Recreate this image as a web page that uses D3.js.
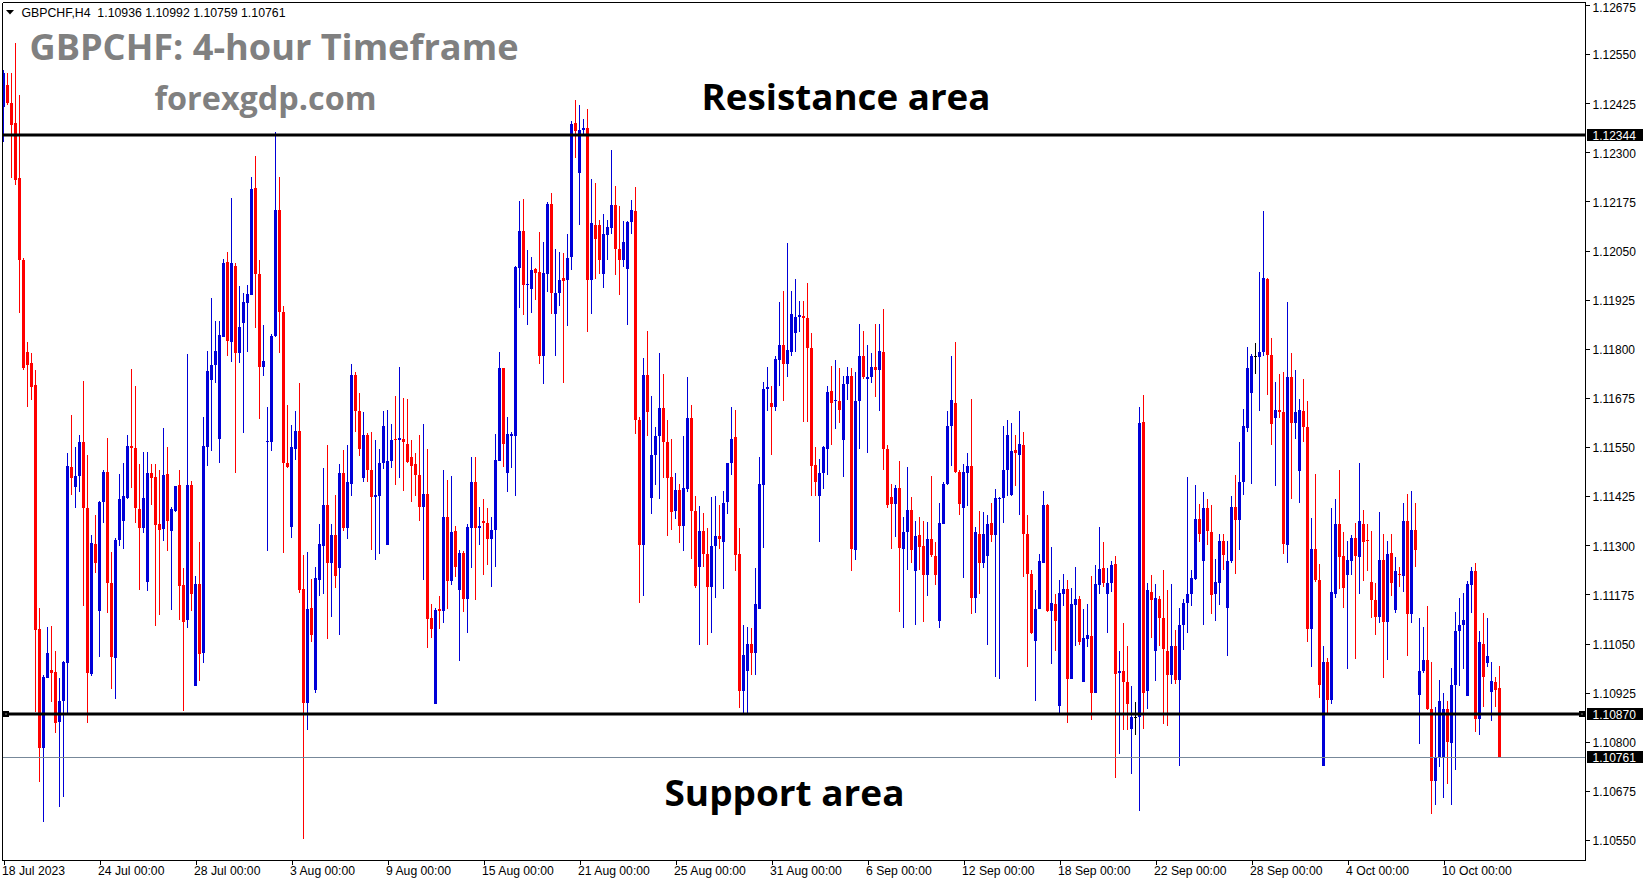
<!DOCTYPE html>
<html><head><meta charset="utf-8">
<script src="https://cdn.jsdelivr.net/npm/d3@7"></script>
<style>html,body{margin:0;padding:0;background:#fff;overflow:hidden}</style>
</head><body><svg id="c" width="1649" height="884"></svg>
<script>
// ---- data (GBPCHF H4) ----
const opens=[1.12416,1.12472,1.12426,1.12375,1.12235,1.12026,1.11792,1.11764,1.11708,1.11087,1.10784,1.10962,1.10983,1.10978,1.10850,1.10904,1.11001,1.11500,1.11449,1.11477,1.11563,1.11395,1.10973,1.11304,1.11133,1.11410,1.11487,1.11204,1.11013,1.11314,1.11362,1.11421,1.11553,1.11548,1.11393,1.11344,1.11207,1.11484,1.11474,1.11354,1.11342,1.11482,1.11337,1.11388,1.11454,1.11199,1.11110,1.11454,1.10942,1.11202,1.11026,1.11550,1.11721,1.11759,1.11571,1.11830,1.12021,1.11818,1.12011,1.11790,1.11866,1.11917,1.11937,1.12210,1.11991,1.11754,1.11563,1.11563,1.11833,1.12154,1.11894,1.11510,1.11347,1.11545,1.11591,
1.11188,1.10898,1.11141,1.10932,1.11211,1.11299,1.11402,1.11254,1.11327,1.11241,1.11484,1.11345,1.11457,1.11734,1.11641,1.11472,1.11581,1.11491,1.11423,1.11426,1.11509,1.11302,1.11515,1.11571,1.11568,1.11571,1.11559,1.11525,1.11507,1.11478,1.11398,1.11431,1.11114,1.10895,1.11137,1.11133,1.11373,1.11209,1.11336,1.11185,1.11281,1.11164,1.11345,1.11460,1.11345,1.11361,1.11357,1.11315,1.11340,1.11515,1.11750,1.11484,1.11579,1.11579,1.12005,1.12101,1.11962,1.11953,1.12003,1.11996,1.11783,1.11990,1.12169,1.11889,1.11941,1.11980,1.11975,1.12033,1.12375,1.12247,1.12358,1.12363,1.11974,1.12114,
1.12114,1.11990,1.12089,1.12107,1.12167,1.12054,1.12025,1.12003,1.12124,1.12151,1.11620,1.11302,1.11734,1.11420,1.11531,1.11577,1.11649,1.11562,1.11475,1.11388,1.11441,1.11349,1.11444,1.11625,1.11388,1.11244,1.11336,1.11277,1.11195,1.11297,1.11324,1.11309,1.11410,1.11509,1.11575,1.11278,1.10929,1.10981,1.11049,1.11026,1.11139,1.11454,1.11697,1.11661,1.11651,1.11772,1.11809,1.11762,1.11793,1.11839,1.11882,1.11883,1.11879,1.11803,1.11505,1.11425,1.11484,1.11546,1.11692,1.11667,1.11667,1.11567,1.11710,1.11731,1.11287,1.11666,1.11781,1.11723,1.11729,1.11753,1.11746,1.11793,1.11546,1.11423,1.11404,
1.11447,1.11290,1.11334,1.11389,1.11234,1.11327,1.11297,1.11225,1.11315,1.11272,1.11108,1.11355,1.11456,1.11604,1.11663,1.11487,1.11396,1.11484,1.11503,1.11167,1.11330,1.11256,1.11272,1.11357,1.11327,1.11417,1.11420,1.11491,1.11429,1.11542,1.11531,1.11555,1.11330,1.11228,1.11056,1.11137,1.11254,1.11402,1.11133,1.11151,1.10890,1.11176,1.11188,1.10960,1.11149,1.11164,1.10952,1.11061,1.11069,1.10923,1.11198,1.11241,1.11176,1.11203,1.11253,1.10975,1.10981,1.10952,1.10833,1.10862,1.10862,1.11614,1.10929,1.11182,1.11031,1.11164,1.11114,1.11032,1.10969,1.11043,1.10957,1.11096,1.11154,1.11176,1.11213,
1.11367,1.11259,1.11396,1.11334,1.11176,1.11204,1.11312,1.11141,1.11259,1.11398,1.11364,1.11462,1.11598,1.11688,1.11781,1.11778,1.11793,1.11978,1.11784,1.11623,1.11645,1.11639,1.11302,1.11729,1.11612,1.11488,1.11642,1.11602,1.11087,1.11290,1.11211,1.10738,1.11003,1.10907,1.11176,1.11353,1.11272,1.11225,1.11260,1.11318,1.11269,1.11355,1.11314,1.11207,1.11161,1.11117,1.11262,1.11105,1.11281,1.11135,1.11228,1.11222,1.11361,1.11124,1.11339,1.10920,1.10979,1.11007,1.10884,1.10701,1.10760,1.10759,1.10883,1.10796,1.10944,1.11081,1.11096,1.10917,1.11198,1.11234,1.10858,1.11049,1.11000,1.10927,1.10952,1.10936];
const highs=[1.12510,1.12502,1.12502,1.12579,1.12446,1.12031,1.11818,1.11790,1.11746,1.11141,1.10970,1.11092,1.11095,1.11031,1.10962,1.11006,1.11535,1.11632,1.11550,1.11581,1.11718,1.11530,1.11326,1.11377,1.11413,1.11492,1.11573,1.11283,1.11319,1.11482,1.11510,1.11581,1.11749,1.11706,1.11507,1.11538,1.11538,1.11507,1.11507,1.11492,1.11599,1.11550,1.11398,1.11451,1.11492,1.11242,1.11787,1.11464,1.11222,1.11309,1.11627,1.11795,1.11930,1.11871,1.11871,1.12029,1.12047,1.12184,1.12019,1.11960,1.11942,1.11963,1.12238,1.12291,1.12026,1.11861,1.11652,1.11838,1.12352,1.12238,1.11909,1.11657,1.11606,1.11642,1.11713,
1.11275,1.11283,1.11213,1.11246,1.11353,1.11497,1.11555,1.11355,1.11429,1.11507,1.11542,1.11555,1.11762,1.11740,1.11688,1.11639,1.11586,1.11589,1.11568,1.11546,1.11642,1.11645,1.11608,1.11679,1.11755,1.11676,1.11672,1.11568,1.11534,1.11581,1.11608,1.11546,1.11151,1.11141,1.11170,1.11491,1.11466,1.11476,1.11349,1.11287,1.11285,1.11355,1.11525,1.11525,1.11398,1.11417,1.11396,1.11373,1.11583,1.11793,1.11750,1.11626,1.11588,1.12012,1.12175,1.12181,1.12052,1.12033,1.12005,1.12098,1.12073,1.12173,1.12196,1.12054,1.12046,1.12043,1.12093,1.12379,1.12434,1.12420,1.12385,1.12410,1.12231,1.12222,
1.12128,1.12144,1.12128,1.12305,1.12215,1.12163,1.12126,1.12126,1.12178,1.12212,1.11626,1.11777,1.11845,1.11679,1.11602,1.11789,1.11737,1.11618,1.11571,1.11484,1.11457,1.11577,1.11729,1.11657,1.11425,1.11401,1.11383,1.11343,1.11423,1.11425,1.11402,1.11438,1.11509,1.11651,1.11645,1.11343,1.11096,1.11092,1.11090,1.11241,1.11525,1.11715,1.11753,1.11706,1.11781,1.11920,1.11947,1.12070,1.11947,1.11978,1.11922,1.11922,1.11968,1.11839,1.11549,1.11519,1.11552,1.11706,1.11756,1.11772,1.11750,1.11731,1.11753,1.11750,1.11740,1.11864,1.11846,1.11811,1.11789,1.11864,1.11864,1.11901,1.11555,1.11457,1.11454,
1.11515,1.11373,1.11499,1.11423,1.11361,1.11371,1.11361,1.11359,1.11476,1.11309,1.11408,1.11462,1.11642,1.11781,1.11818,1.11491,1.11507,1.11536,1.11672,1.11346,1.11388,1.11386,1.11376,1.11407,1.11444,1.11423,1.11604,1.11618,1.11610,1.11581,1.11641,1.11589,1.11376,1.11238,1.11186,1.11278,1.11438,1.11404,1.11296,1.11176,1.11211,1.11228,1.11211,1.11191,1.11244,1.11170,1.11137,1.11151,1.11222,1.11250,1.11346,1.11309,1.11241,1.11260,1.11272,1.11031,1.11102,1.11044,1.10942,1.10901,1.11651,1.11682,1.11203,1.11225,1.11201,1.11170,1.11238,1.11185,1.11201,1.11084,1.11141,1.11164,1.11475,1.11238,1.11454,
1.11404,1.11435,1.11417,1.11402,1.11265,1.11330,1.11330,1.11312,1.11425,1.11478,1.11562,1.11647,1.11805,1.11787,1.11814,1.11996,1.12151,1.11980,1.11827,1.11716,1.11737,1.11741,1.11919,1.11789,1.11746,1.11672,1.11723,1.11666,1.11370,1.11481,1.11253,1.11043,1.11013,1.11394,1.11419,1.11491,1.11333,1.11312,1.11327,1.11357,1.11509,1.11389,1.11355,1.11336,1.11204,1.11386,1.11330,1.11312,1.11330,1.11271,1.11244,1.11408,1.11431,1.11439,1.11407,1.11114,1.11092,1.11145,1.11003,1.10889,1.10958,1.10923,1.10905,1.10987,1.11129,1.11167,1.11178,1.11209,1.11244,1.11256,1.11081,1.11127,1.11114,1.11003,1.10966,1.10992];
const lows=[1.12327,1.12421,1.12235,1.12217,1.11891,1.11746,1.11652,1.11670,1.10876,1.10698,1.10596,1.10962,1.10901,1.10823,1.10634,1.10660,1.10873,1.11428,1.11395,1.11436,1.11146,1.10848,1.10968,1.11230,1.11016,1.11357,1.11128,1.10935,1.10909,1.11298,1.11291,1.11418,1.11446,1.11357,1.11186,1.11331,1.11184,1.11403,1.11095,1.11123,1.11311,1.11286,1.11136,1.11385,1.11110,1.10879,1.11090,1.11133,1.10942,1.10955,1.11001,1.11502,1.11540,1.11713,1.11510,1.11830,1.11782,1.11767,1.11484,1.11764,1.11586,1.11792,1.11937,1.11853,1.11622,1.11731,1.11286,1.11540,1.11830,1.11790,1.11281,1.11497,1.11319,1.11517,1.11179,
1.10553,1.10831,1.11053,1.10923,1.11170,1.11176,1.11061,1.11117,1.11191,1.11071,1.11336,1.11315,1.11426,1.11589,1.11528,1.11462,1.11460,1.11287,1.11262,1.11277,1.11493,1.11302,1.11497,1.11454,1.11470,1.11438,1.11509,1.11410,1.11425,1.11361,1.11211,1.11038,1.11065,1.10895,1.11087,1.11102,1.11137,1.11198,1.11219,1.11006,1.11130,1.11077,1.11241,1.11161,1.11302,1.11225,1.11250,1.11195,1.11246,1.11515,1.11500,1.11435,1.11497,1.11426,1.11904,1.11885,1.11861,1.11892,1.11925,1.11762,1.11710,1.11945,1.11888,1.11781,1.11910,1.11713,1.11857,1.12000,1.12286,1.12116,1.12342,1.11842,1.11888,1.11978,
1.11990,1.11956,1.12025,1.12093,1.11988,1.11938,1.12009,1.11861,1.12093,1.11583,1.11154,1.11170,1.11577,1.11380,1.11454,1.11417,1.11472,1.11324,1.11340,1.11367,1.11306,1.11285,1.11435,1.11266,1.11192,1.11047,1.11244,1.11047,1.11077,1.11166,1.11290,1.11188,1.11380,1.11478,1.11234,1.10886,1.10874,1.10874,1.10969,1.10969,1.11139,1.11293,1.11641,1.11531,1.11642,1.11706,1.11667,1.11728,1.11781,1.11793,1.11842,1.11614,1.11614,1.11425,1.11425,1.11309,1.11444,1.11478,1.11555,1.11596,1.11612,1.11475,1.11670,1.11235,1.11262,1.11546,1.11723,1.11534,1.11713,1.11678,1.11641,1.11491,1.11394,1.11290,1.11322,
1.11129,1.11090,1.11238,1.11256,1.11098,1.11238,1.11105,1.11170,1.11269,1.11198,1.11090,1.11353,1.11454,1.11503,1.11484,1.11377,1.11216,1.11401,1.11124,1.11127,1.11176,1.11241,1.11047,1.11309,1.10964,1.10960,1.11357,1.11425,1.11425,1.11450,1.11377,1.11219,1.10989,1.11075,1.10905,1.11137,1.11254,1.11130,1.10997,1.11032,1.10874,1.11145,1.10849,1.10960,1.11043,1.11047,1.10952,1.11040,1.10855,1.10923,1.11176,1.11195,1.11077,1.11180,1.10707,1.10769,1.10831,1.10831,1.10717,1.10818,1.10625,1.10833,1.10883,1.11065,1.10954,1.11043,1.10846,1.10841,1.10948,1.10948,1.10738,1.11034,1.11077,1.11145,1.11211,
1.11309,1.11098,1.11302,1.11124,1.11108,1.11148,1.11238,1.11019,1.11256,1.11228,1.11287,1.11429,1.11589,1.11457,1.11737,1.11641,1.11781,1.11682,1.11556,1.11450,1.11624,1.11277,1.11254,1.11417,1.11571,1.11407,1.11562,1.11053,1.10991,1.11207,1.10911,1.10738,1.10874,1.10895,1.11166,1.11188,1.11141,1.10985,1.11225,1.11010,1.11176,1.11209,1.11234,1.11114,1.11071,1.11102,1.10963,1.11007,1.11170,1.11127,1.11195,1.11182,1.11018,1.11102,1.11244,1.10794,1.10975,1.10880,1.10615,1.10639,1.10736,1.10658,1.10693,1.10639,1.10729,1.10942,1.10985,1.10917,1.11127,1.10824,1.10818,1.10889,1.10991,1.10852,1.10889,1.10759];
const closes=[1.12502,1.12426,1.12370,1.12230,1.12026,1.11751,1.11759,1.11703,1.11085,1.10784,1.10965,1.11026,1.10975,1.10848,1.10904,1.11003,1.11502,1.11471,1.11477,1.11563,1.11395,1.10975,1.11306,1.11255,1.11410,1.11487,1.11204,1.11016,1.11314,1.11418,1.11426,1.11553,1.11548,1.11395,1.11344,1.11421,1.11484,1.11471,1.11352,1.11339,1.11479,1.11362,1.11393,1.11451,1.11197,1.11105,1.11454,1.11176,1.11202,1.11024,1.11553,1.11744,1.11759,1.11795,1.11835,1.12019,1.11820,1.12019,1.11790,1.11856,1.11919,1.11940,1.12207,1.11991,1.11754,1.11769,1.11566,1.11833,1.12154,1.11894,1.11510,1.11500,1.11550,1.11591,1.11186,
1.10898,1.11139,1.11071,1.11216,1.11303,1.11402,1.11254,1.11327,1.11222,1.11484,1.11345,1.11460,1.11734,1.11641,1.11544,1.11581,1.11491,1.11423,1.11429,1.11509,1.11604,1.11515,1.11568,1.11568,1.11573,1.11562,1.11513,1.11503,1.11478,1.11398,1.11431,1.11112,1.11086,1.11135,1.11133,1.11373,1.11209,1.11334,1.11244,1.11281,1.11164,1.11346,1.11460,1.11345,1.11349,1.11357,1.11315,1.11340,1.11518,1.11752,1.11559,1.11583,1.11583,1.12009,1.12101,1.11962,1.11966,1.12000,1.11994,1.11783,1.11993,1.12169,1.11941,1.11941,1.11975,1.11972,1.12031,1.12373,1.12354,1.12357,1.12363,1.11974,1.12120,1.12079,
1.12027,1.12093,1.12110,1.12167,1.12054,1.12025,1.12073,1.12124,1.12153,1.11620,1.11302,1.11734,1.11639,1.11531,1.11577,1.11649,1.11562,1.11472,1.11386,1.11441,1.11349,1.11447,1.11623,1.11388,1.11197,1.11336,1.11277,1.11195,1.11297,1.11324,1.11315,1.11408,1.11509,1.11571,1.11275,1.10929,1.11022,1.11049,1.11026,1.11151,1.11457,1.11698,1.11704,1.11653,1.11774,1.11809,1.11762,1.11797,1.11889,1.11882,1.11885,1.11879,1.11803,1.11503,1.11462,1.11484,1.11549,1.11691,1.11663,1.11670,1.11645,1.11710,1.11731,1.11290,1.11666,1.11781,1.11728,1.11728,1.11753,1.11746,1.11795,1.11544,1.11402,1.11404,1.11447,
1.11293,1.11334,1.11389,1.11287,1.11324,1.11296,1.11225,1.11315,1.11275,1.11225,1.11357,1.11456,1.11604,1.11670,1.11487,1.11404,1.11487,1.11503,1.11167,1.11333,1.11256,1.11330,1.11355,1.11327,1.11420,1.11420,1.11491,1.11581,1.11540,1.11534,1.11559,1.11328,1.11228,1.11077,1.11139,1.11259,1.11402,1.11133,1.11154,1.11108,1.11178,1.11188,1.10960,1.11151,1.11164,1.11053,1.11065,1.11071,1.10923,1.11201,1.11240,1.11204,1.11204,1.11250,1.10973,1.10981,1.10952,1.10895,1.10862,1.10862,1.11610,1.10923,1.11186,1.11161,1.11166,1.11114,1.11037,1.10969,1.11043,1.10957,1.11096,1.11154,1.11176,1.11216,1.11367,
1.11328,1.11396,1.11336,1.11174,1.11207,1.11312,1.11275,1.11260,1.11398,1.11364,1.11462,1.11604,1.11752,1.11781,1.11781,1.11793,1.11980,1.11784,1.11608,1.11645,1.11639,1.11303,1.11729,1.11612,1.11639,1.11645,1.11602,1.11087,1.11290,1.11211,1.10944,1.11003,1.10907,1.11182,1.11353,1.11269,1.11192,1.11262,1.11318,1.11272,1.11361,1.11308,1.11312,1.11161,1.11117,1.11262,1.11105,1.11278,1.11204,1.11234,1.11225,1.11361,1.11124,1.11339,1.11287,1.10979,1.11007,1.10884,1.10701,1.10760,1.10905,1.10883,1.10800,1.10944,1.11081,1.11098,1.11111,1.11201,1.11234,1.10859,1.11053,1.10966,1.11018,1.10954,1.10933,1.10761];
const xTickIndex=[0,24,48,72,96,120,144,168,192,216,240,264,288,312,336,360];
const xTickLabels=["18 Jul 2023","24 Jul 00:00","28 Jul 00:00","3 Aug 00:00","9 Aug 00:00","15 Aug 00:00","21 Aug 00:00","25 Aug 00:00","31 Aug 00:00","6 Sep 00:00","12 Sep 00:00","18 Sep 00:00","22 Sep 00:00","28 Sep 00:00","4 Oct 00:00","10 Oct 00:00"];
const yTickValues=[1.12675,1.12550,1.12425,1.12300,1.12175,1.12050,1.11925,1.11800,1.11675,1.11550,1.11425,1.11300,1.11175,1.11050,1.10925,1.10800,1.10675,1.10550];
const resistanceLevel=1.12344, supportLevel=1.10870, lastPrice=1.10761;
const headerText="GBPCHF,H4  1.10936 1.10992 1.10759 1.10761";
const titleText="GBPCHF: 4-hour Timeframe", siteText="forexgdp.com";
const resistanceText="Resistance area", supportText="Support area";

// ---- drawing ----
const svg=d3.select("#c");
const L=2.5, R=1585.5, T=2.5, B=860.5;
const y=d3.scaleLinear().domain([1.10550,1.12675]).range([840,5]);
const x=d3.scaleLinear().domain([0,closes.length-1]).range([3,1499]);
const BLUE="#0000d8", RED="#ff0000";
const AXFONT="Liberation Sans, Arial, sans-serif";

svg.append("rect").attr("width",1649).attr("height",884).attr("fill","#fff");

// candles
const g=svg.append("g").attr("shape-rendering","crispEdges");
closes.forEach((c,i)=>{
  const o=opens[i], h=highs[i], l=lows[i];
  const col=c>o?BLUE:(c<o?RED:"#000");
  const xs=Math.round(x(i));
  const yh=Math.round(y(h)), yl=Math.round(y(l));
  g.append("rect").attr("x",xs).attr("y",yh).attr("width",1).attr("height",Math.max(1,yl-yh)).attr("fill",col);
  const yt=Math.round(y(Math.max(o,c))), yb=Math.round(y(Math.min(o,c)));
  g.append("rect").attr("x",xs-1).attr("y",yt).attr("width",3).attr("height",Math.max(1,yb-yt)).attr("fill",col);
});

// current price line
const yLast=Math.round(y(lastPrice))+0.5;
svg.append("line").attr("x1",L).attr("x2",R).attr("y1",yLast).attr("y2",yLast)
  .attr("stroke","#778899").attr("stroke-width",1);
// resistance / support lines
[resistanceLevel,supportLevel].forEach(v=>{
  svg.append("line").attr("x1",L).attr("x2",R).attr("y1",Math.round(y(v))).attr("y2",Math.round(y(v)))
    .attr("stroke","#000").attr("stroke-width",3);
});
// selection markers on support line
[3,1579].forEach(mx=>{
  const my=Math.round(y(supportLevel));
  svg.append("rect").attr("x",mx).attr("y",my-3).attr("width",6).attr("height",6).attr("fill","#000");
  svg.append("rect").attr("x",mx+2.5).attr("y",my-0.5).attr("width",1).attr("height",1).attr("fill","#fff");
});

// frame
const fr=svg.append("g").attr("stroke","#000").attr("stroke-width",1).attr("shape-rendering","crispEdges");
fr.append("line").attr("x1",L).attr("x2",L).attr("y1",T).attr("y2",B);
fr.append("line").attr("x1",L).attr("x2",R).attr("y1",T).attr("y2",T);
fr.append("line").attr("x1",R).attr("x2",R).attr("y1",T).attr("y2",B);
fr.append("line").attr("x1",L).attr("x2",R).attr("y1",B).attr("y2",B);

// right axis
const yAxis=d3.axisRight(y).tickValues(yTickValues).tickFormat(d3.format(".5f")).tickSize(4).tickPadding(3);
const ya=svg.append("g").attr("transform",`translate(${R},0)`).call(yAxis);
ya.select(".domain").remove();
ya.selectAll("text").attr("font-family",AXFONT).attr("font-size","12px").attr("fill","#000").attr("dy","0.4em");
ya.selectAll(".tick").filter(d=>d===yTickValues[0]).select("text").attr("dy","0.5em");
ya.selectAll("line").attr("stroke","#000").attr("shape-rendering","crispEdges");

// price tags
[resistanceLevel,supportLevel,lastPrice].forEach(v=>{
  const yy=Math.round(y(v));
  svg.append("rect").attr("x",1587).attr("y",yy-6).attr("width",56).attr("height",12).attr("fill","#000");
  svg.append("text").attr("x",1592.5).attr("y",yy).attr("dy","0.4em").attr("fill","#fff")
    .attr("font-family",AXFONT).attr("font-size","12px").text(d3.format(".5f")(v));
});

// bottom axis
const xAxis=d3.axisBottom(x).tickValues(xTickIndex).tickFormat((d,i)=>xTickLabels[i]).tickSize(4).tickPadding(2);
const xa=svg.append("g").attr("transform",`translate(0.5,${B})`).call(xAxis);
xa.select(".domain").remove();
xa.selectAll("line").attr("stroke","#000").attr("shape-rendering","crispEdges");
xa.selectAll("text").attr("text-anchor","start").attr("x",-2).attr("font-family",AXFONT).attr("font-size","12.2px").attr("fill","#000");

// header
svg.append("path").attr("d","M6,10 L14,10 L10,14.5 Z").attr("fill","#000");
svg.append("text").attr("x",21.5).attr("y",16.5).attr("font-family",AXFONT).attr("font-size","12px")
  .attr("textLength",264).attr("lengthAdjust","spacingAndGlyphs").style("white-space","pre").text(headerText);

// big texts
function big(t,x0,w,yb,size,col){
  svg.append("text").attr("x",x0).attr("y",yb).attr("font-family","Open Sans, Lato, sans-serif").attr("font-weight",700)
    .attr("font-size",size+"px").attr("fill",col).attr("textLength",w).attr("lengthAdjust","spacingAndGlyphs").text(t);
}
big(titleText,29.5,489,59.5,36,"#808080");
big(siteText,154.5,222,110,32,"#808080");
big(resistanceText,701.5,289,109.5,36,"#000");
big(supportText,664.5,240,806,36,"#000");
</script></body></html>
